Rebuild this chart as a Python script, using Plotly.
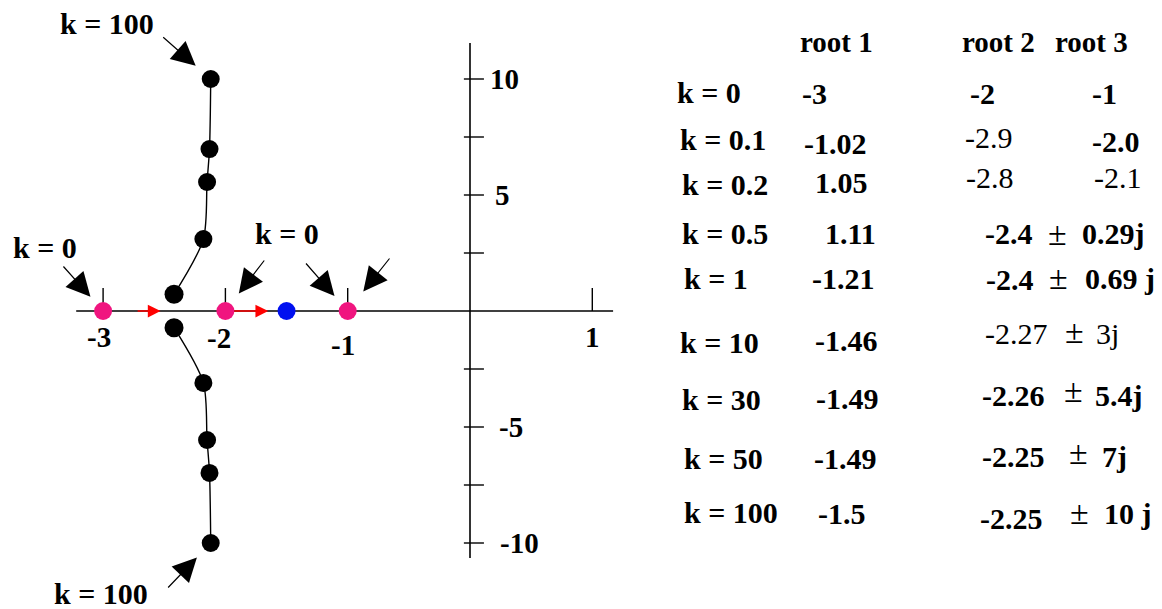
import plotly.graph_objects as go

W, H = 1162, 609
# pixel position of the s-plane origin and pixels per unit on each axis
X0, Y0 = 470, 311
SX, SY = 122.3, 23.2

# ---- root locus data ----
# complex branch (upper half, lower half is its conjugate), ordered by increasing k
branch_re = [-2.42, -2.18, -2.15, -2.13, -2.12]
branch_im = [0.72, 3.10, 5.56, 6.98, 10.0]
open_loop_poles = [-3, -2, -1]
root1_k100 = -1.5
# direction of travel along the real axis (from, to)
red_arrows = [(-2.73, -2.53), (-1.94, -1.65)]

x_ticks = [-3, -2, -1, 1]
x_tick_labels = ["-3", "-2", "-1", "1"]
y_ticks = [10, 7.5, 5, 2.5, -2.5, -5, -7.5, -10]
y_label_vals = [10, 5, -5, -10]
y_tick_labels = ["10", "5", "-5", "-10"]

# ---- table of roots ----
header = ["root 1", "root 2", "root 3"]
k_labels = ["k = 0", "k = 0.1", "k = 0.2", "k = 0.5", "k = 1",
            "k = 10", "k = 30", "k = 50", "k = 100"]
root1_vals = ["-3", "-1.02", "1.05", "1.11", "-1.21", "-1.46", "-1.49", "-1.49", "-1.5"]
root2_vals = ["-2", "-2.9", "-2.8"]
root3_vals = ["-1", "-2.0", "-2.1"]
pair_re = ["-2.4", "-2.4", "-2.27", "-2.26", "-2.25", "-2.25"]
pair_im = ["0.29j", "0.69 j", "3j", "5.4j", "7j", "10 j"]

# ---- layout of the table (pixel positions: left edge, vertical centre) ----
header_pos = [(798, 42), (960, 42), (1053, 42)]
k_pos = [(675, 92), (678, 140), (680, 184), (680, 234), (682, 278),
         (678, 342), (680, 399), (682, 458), (682, 512)]
root1_pos = [(800, 93), (802, 143), (813, 183), (823, 234), (810, 278),
             (813, 340), (814, 398), (812, 458), (816, 513)]
root2_pos = [(968, 93), (963, 137), (964, 178)]
root3_pos = [(1090, 93), (1090, 142), (1092, 177)]
pair_re_pos = [(983, 234), (984, 279), (983, 333), (980, 395), (980, 456), (978, 518)]
pm_pos = [(1046, 233), (1047, 277), (1063, 331), (1062, 390), (1067, 452), (1068, 512)]
pair_im_pos = [(1080, 234), (1083, 278), (1094, 333), (1093, 395), (1100, 456), (1102, 513)]
light_root2 = [False, True, True]
light_root3 = [False, False, True]
light_pair = [False, False, True, False, False, False]

SERIF = "Liberation Serif"
FS = 30
VOFF = 0  # fine vertical correction for text boxes


def bold(s, on=True):
    return f"<b>{s}</b>" if on else s


fig = go.Figure()

x_lo, x_hi = -3.22, 1.17
y_lo, y_hi = -10.65, 11.55
tick_up = 0.99
ytick_l, ytick_r = -0.05, 0.114

shapes = [
    dict(type="line", xref="x", yref="y", x0=x_lo, x1=x_hi, y0=0, y1=0,
         line=dict(color="black", width=1.6), layer="below"),
    dict(type="line", xref="x", yref="y", x0=0, x1=0, y0=y_lo, y1=y_hi,
         line=dict(color="black", width=1.6), layer="below"),
]
for t in x_ticks:
    shapes.append(dict(type="line", xref="x", yref="y", x0=t, x1=t, y0=0, y1=tick_up,
                       line=dict(color="black", width=1.4), layer="below"))
for t in y_ticks:
    shapes.append(dict(type="line", xref="x", yref="y", x0=ytick_l, x1=ytick_r, y0=t, y1=t,
                       line=dict(color="black", width=1.4), layer="below"))

# locus curves
for sign in (1, -1):
    fig.add_trace(go.Scatter(x=branch_re, y=[sign * v for v in branch_im], mode="lines",
                             line=dict(color="#000000", width=1.4, shape="spline", smoothing=0.8),
                             hoverinfo="skip", opacity=1))
dot_sizes = [19, 18, 18, 18, 18]
fig.add_trace(go.Scatter(x=branch_re + branch_re,
                         y=branch_im + [-v for v in branch_im],
                         mode="markers", opacity=1,
                         marker=dict(color="#000000", size=dot_sizes + dot_sizes, opacity=1,
                                     line=dict(width=0, color="#000000"))))
fig.add_trace(go.Scatter(x=open_loop_poles, y=[0] * len(open_loop_poles), mode="markers",
                         marker=dict(color="#F0157F", size=18, opacity=1, line=dict(width=0))))
fig.add_trace(go.Scatter(x=[root1_k100], y=[0], mode="markers",
                         marker=dict(color="#0010F0", size=18, opacity=1, line=dict(width=0))))

ann = []
# red direction arrows on the real axis
for a, b in red_arrows:
    ann.append(dict(x=b, y=0, ax=a, ay=0, xref="x", yref="y", axref="x", ayref="y",
                    text="", showarrow=True, arrowhead=2, arrowsize=1.7, arrowwidth=1.5,
                    arrowcolor="#FF0000"))

# axis tick labels
x_lab_shift = [(-4, 26), (-6.5, 27), (-4.5, 34), (0, 26)]
for t, lab, (dx, dy) in zip(x_ticks, x_tick_labels, x_lab_shift):
    ann.append(dict(x=t, y=0, xref="x", yref="y", text=bold(lab), showarrow=False,
                    xanchor="center", yanchor="middle", xshift=dx, yshift=-dy + VOFF,
                    font=dict(family=SERIF, size=FS - 1, color="black")))
y_lab_shift = [18, 23, 27, 28]
for v, lab, dx in zip(y_label_vals, y_tick_labels, y_lab_shift):
    ann.append(dict(x=0, y=v, xref="x", yref="y", text=bold(lab), showarrow=False,
                    xanchor="left", yanchor="middle", xshift=dx, yshift=VOFF,
                    font=dict(family=SERIF, size=FS - 1, color="black")))

# pointer arrows with their k labels
pointers = [
    (branch_re[-1], branch_im[-1], -49, -43, 20),
    (branch_re[-1], -branch_im[-1], -44, 46, 20),
    (open_loop_poles[0], 0, -41, -46, 19),
    (open_loop_poles[1], 0, 40, -52, 22),
    (open_loop_poles[2], 0, -43, -49, 20),
    (open_loop_poles[2], 0, 43, -54, 25),
]
for x, y, ax, ay, so in pointers:
    ann.append(dict(x=x, y=y, xref="x", yref="y", ax=ax, ay=ay, text="", showarrow=True,
                    arrowhead=2, arrowsize=4.0, arrowwidth=1.2, arrowcolor="black",
                    standoff=so))

pointer_labels = [("k = 100", 107, 24), ("k = 100", 101, 593),
                  ("k = 0", 45, 247), ("k = 0", 287, 233)]


def paper_text(txt, px, py, anchor="left", weight=True, size=FS):
    return dict(x=px / W, y=1 - py / H, xref="paper", yref="paper", text=bold(txt, weight),
                showarrow=False, xanchor=anchor, yanchor="middle", yshift=VOFF,
                font=dict(family=SERIF, size=size, color="black"))


for txt, px, py in pointer_labels:
    ann.append(paper_text(txt, px, py, anchor="center"))

# the table
for txt, (px, py) in zip(header, header_pos):
    ann.append(paper_text(txt, px, py, size=FS - 1))
for txt, (px, py) in zip(k_labels, k_pos):
    ann.append(paper_text(txt, px, py))
for txt, (px, py) in zip(root1_vals, root1_pos):
    ann.append(paper_text(txt, px, py))
for txt, (px, py), lt in zip(root2_vals, root2_pos, light_root2):
    ann.append(paper_text(txt, px, py, weight=not lt))
for txt, (px, py), lt in zip(root3_vals, root3_pos, light_root3):
    ann.append(paper_text(txt, px, py, weight=not lt))
for re_, im_, p1, p2, p3, lt in zip(pair_re, pair_im, pair_re_pos, pm_pos, pair_im_pos, light_pair):
    ann.append(paper_text(re_, *p1, weight=not lt))
    ann.append(paper_text("±", *p2, weight=False, size=FS + 4))
    ann.append(paper_text(im_, *p3, weight=not lt))

fig.update_layout(
    width=W, height=H,
    margin=dict(l=0, r=0, t=0, b=0),
    paper_bgcolor="white", plot_bgcolor="white",
    showlegend=False,
    font=dict(family=SERIF, color="black"),
    xaxis=dict(range=[-X0 / SX, (W - X0) / SX], visible=False, fixedrange=True),
    yaxis=dict(range=[(Y0 - H) / SY, Y0 / SY], visible=False, fixedrange=True),
    shapes=shapes,
    annotations=ann,
)

fig.write_html("out.html", config={"displayModeBar": False})
